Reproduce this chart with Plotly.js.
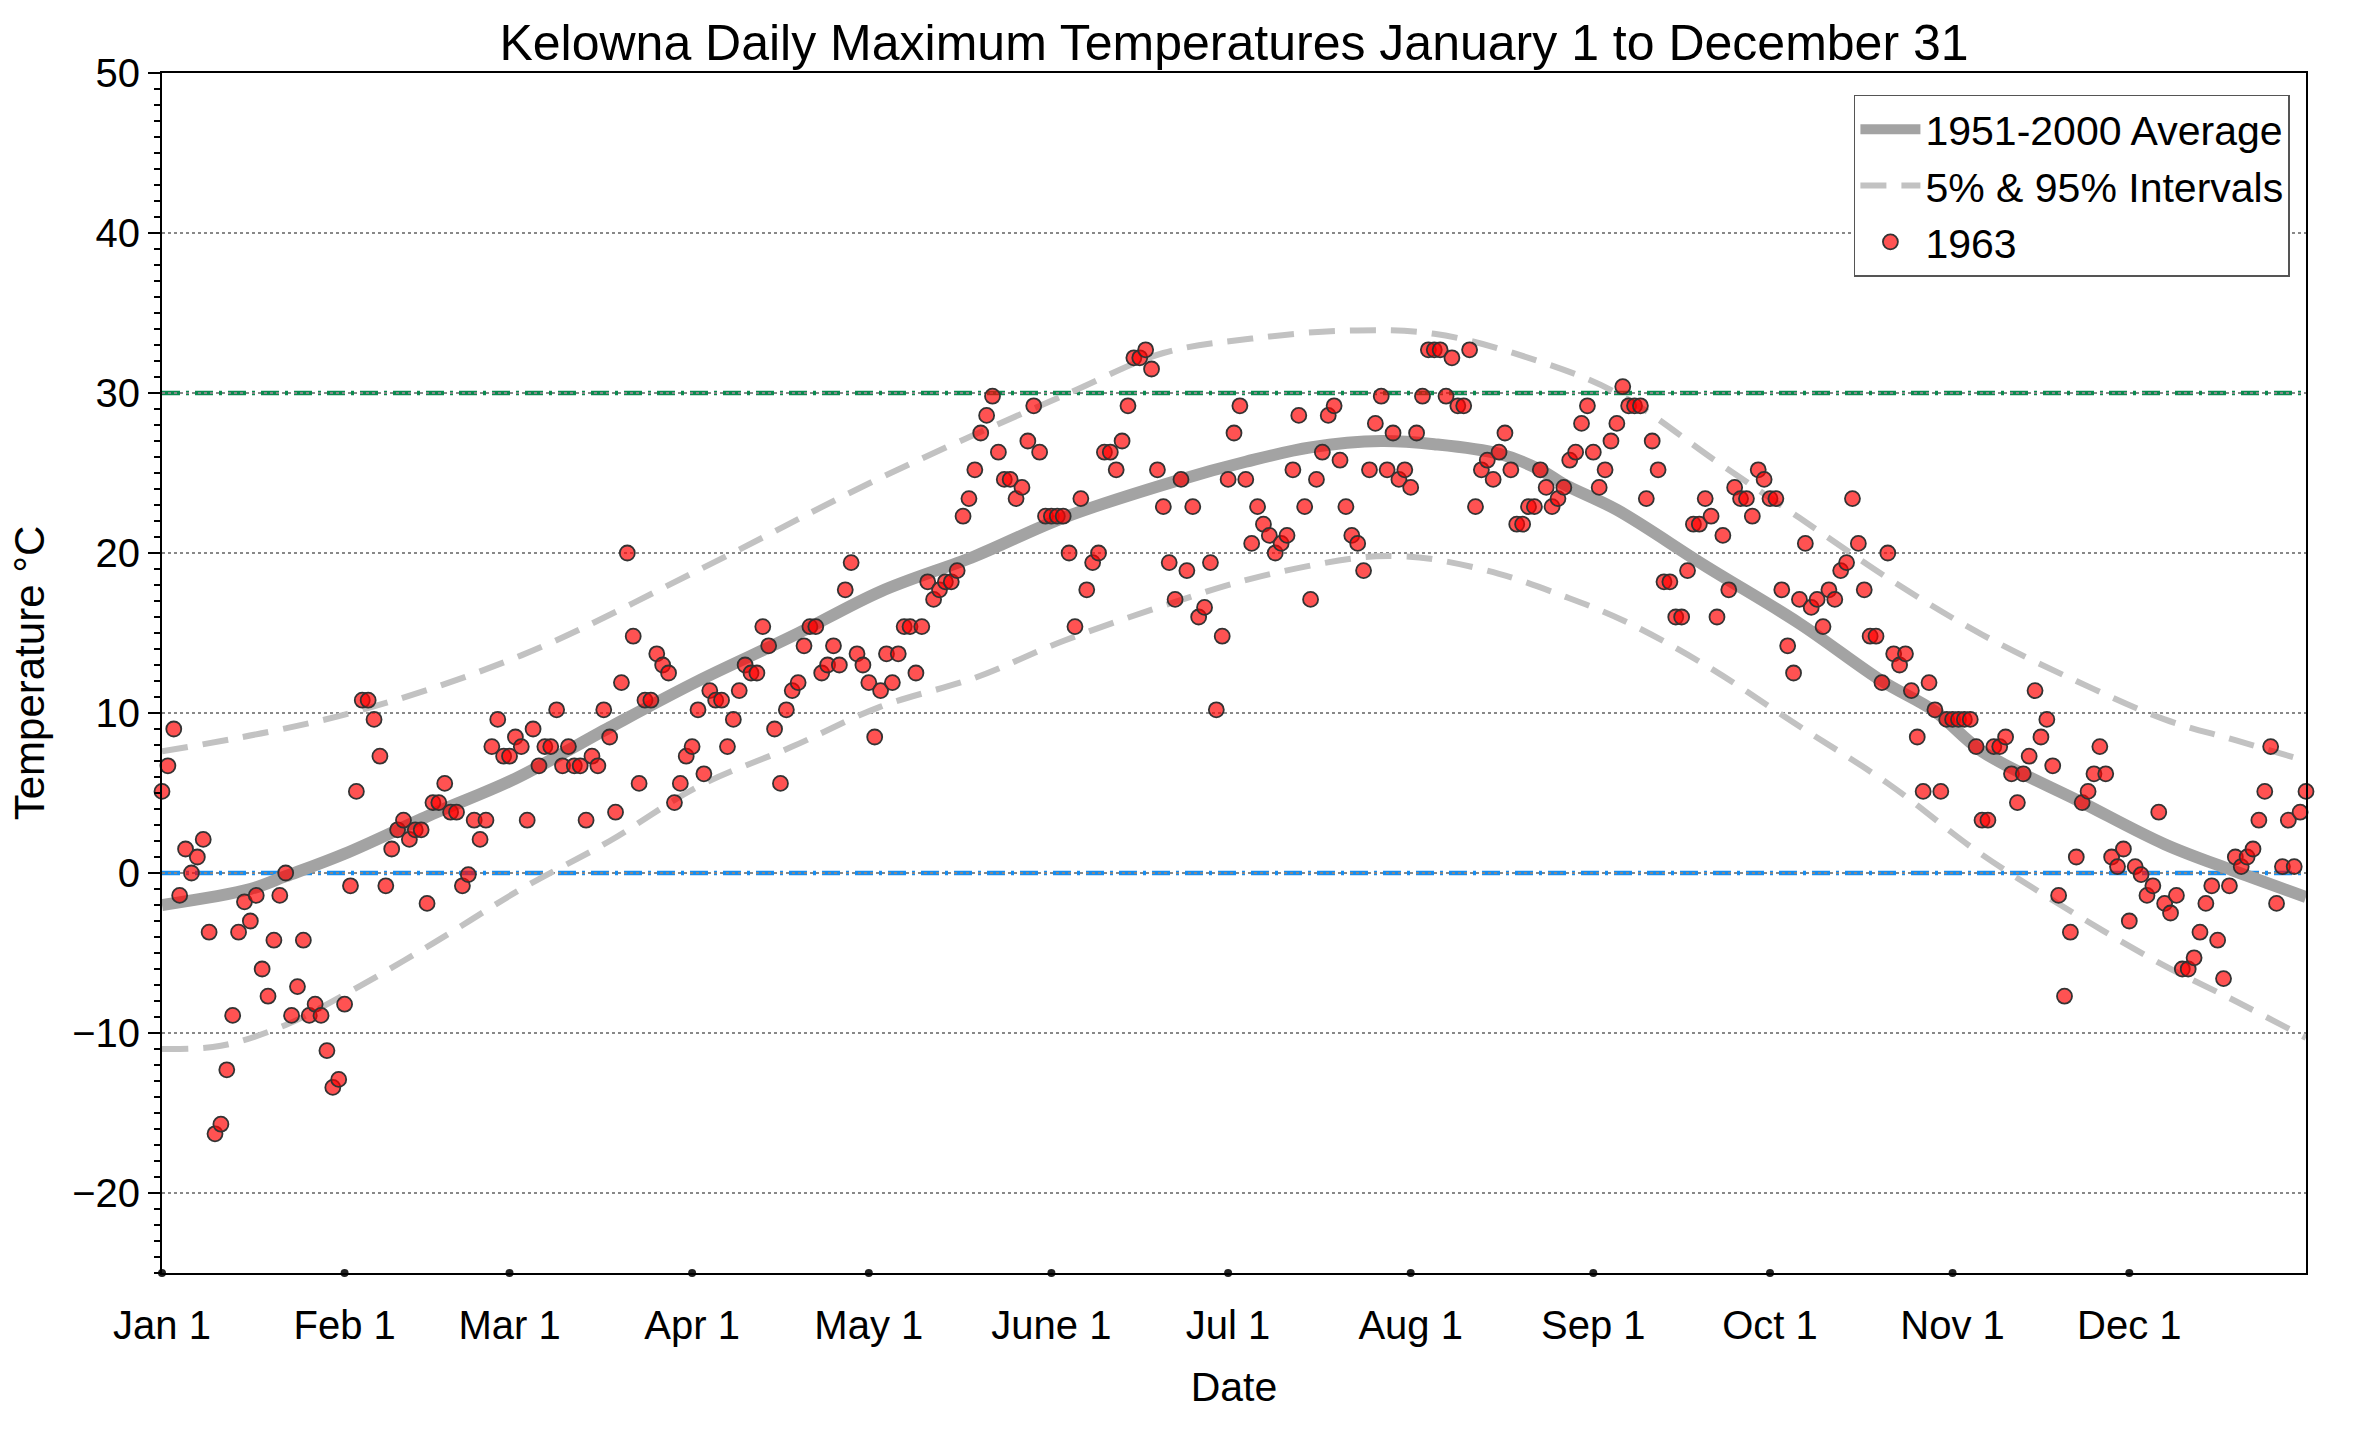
<!DOCTYPE html>
<html>
<head>
<meta charset="utf-8">
<script src="https://cdn.plot.ly/plotly-3.0.1.min.js"></script>
<style>html,body{margin:0;padding:0;background:#fff}</style>
</head>
<body>
<div id="chart" style="width:2360px;height:1432px"></div>
<script>
// daily max temperature 1963, Jan 1 .. Dec 31
var temps1963 = [
 5.1, 6.7, 9.0, -1.4, 1.5, 0.0, 1.0, 2.1, -3.7, -16.3,
 -15.7, -12.3, -8.9, -3.7, -1.8, -3.0, -1.4, -6.0, -7.7, -4.2,
 -1.4, 0.0, -8.9, -7.1, -4.2, -8.9, -8.2, -8.9, -11.1, -13.4,
 -12.9, -8.2, -0.8, 5.1, 10.8, 10.8, 9.6, 7.3, -0.8, 1.5,
 2.7, 3.3, 2.1, 2.7, 2.7, -1.9, 4.4, 4.4, 5.6, 3.8,
 3.8, -0.8, -0.1, 3.3, 2.1, 3.3, 7.9, 9.6, 7.3, 7.3,
 8.5, 7.9, 3.3, 9.0, 6.7, 7.9, 7.9, 10.2, 6.7, 7.9,
 6.7, 6.7, 3.3, 7.3, 6.7, 10.2, 8.5, 3.8, 11.9, 20.0,
 14.8, 5.6, 10.8, 10.8, 13.7, 13.0, 12.5, 4.4, 5.6, 7.3,
 7.9, 10.2, 6.2, 11.4, 10.8, 10.8, 7.9, 9.6, 11.4, 13.0,
 12.5, 12.5, 15.4, 14.2, 9.0, 5.6, 10.2, 11.4, 11.9, 14.2,
 15.4, 15.4, 12.5, 13.0, 14.2, 13.0, 17.7, 19.4, 13.7, 13.0,
 11.9, 8.5, 11.4, 13.7, 11.9, 13.7, 15.4, 15.4, 12.5, 15.4,
 18.2, 17.1, 17.7, 18.2, 18.2, 18.9, 22.3, 23.4, 25.2, 27.5,
 28.6, 29.8, 26.3, 24.6, 24.6, 23.4, 24.1, 27.0, 29.2, 26.3,
 22.3, 22.3, 22.3, 22.3, 20.0, 15.4, 23.4, 17.7, 19.4, 20.0,
 26.3, 26.3, 25.2, 27.0, 29.2, 32.2, 32.2, 32.7, 31.5, 25.2,
 22.9, 19.4, 17.1, 24.6, 18.9, 22.9, 16.0, 16.6, 19.4, 10.2,
 14.8, 24.6, 27.5, 29.2, 24.6, 20.6, 22.9, 21.8, 21.1, 20.0,
 20.6, 21.1, 25.2, 28.6, 22.9, 17.1, 24.6, 26.3, 28.6, 29.2,
 25.8, 22.9, 21.1, 20.6, 18.9, 25.2, 28.1, 29.8, 25.2, 27.5,
 24.6, 25.2, 24.1, 27.5, 29.8, 32.7, 32.7, 32.7, 29.8, 32.2,
 29.2, 29.2, 32.7, 22.9, 25.2, 25.8, 24.6, 26.3, 27.5, 25.2,
 21.8, 21.8, 22.9, 22.9, 25.2, 24.1, 22.9, 23.4, 24.1, 25.8,
 26.3, 28.1, 29.2, 26.3, 24.1, 25.2, 27.0, 28.1, 30.4, 29.2,
 29.2, 29.2, 23.4, 27.0, 25.2, 18.2, 18.2, 16.0, 16.0, 18.9,
 21.8, 21.8, 23.4, 22.3, 16.0, 21.1, 17.7, 24.1, 23.4, 23.4,
 22.3, 25.2, 24.6, 23.4, 23.4, 17.7, 14.2, 12.5, 17.1, 20.6,
 16.6, 17.1, 15.4, 17.7, 17.1, 18.9, 19.4, 23.4, 20.6, 17.7,
 14.8, 14.8, 11.9, 20.0, 13.7, 13.0, 13.7, 11.4, 8.5, 5.1,
 11.9, 10.2, 5.1, 9.6, 9.6, 9.6, 9.6, 9.6, 7.9, 3.3,
 3.3, 7.9, 7.9, 8.5, 6.2, 4.4, 6.2, 7.3, 11.4, 8.5,
 9.6, 6.7, -1.4, -7.7, -3.7, 1.0, 4.4, 5.1, 6.2, 7.9,
 6.2, 1.0, 0.4, 1.5, -3.0, 0.4, -0.1, -1.4, -0.8, 3.8,
 -1.9, -2.5, -1.4, -6.0, -6.0, -5.3, -3.7, -1.9, -0.8, -4.2,
 -6.6, -0.8, 1.0, 0.4, 1.0, 1.5, 3.3, 5.1, 7.9, -1.9,
 0.4, 3.3, 0.4, 3.8, 5.1
];
var dayIndex = temps1963.map(function (t, i) { return i; });

// 1951-2000 average curve
var avgDays  = [0, 15, 21, 31, 46, 60, 76, 91, 107, 122, 138, 153, 173, 184, 195, 207, 216, 227, 234, 238, 247, 262, 278, 292, 301, 309, 326, 340, 352, 364];
var avgTemps = [-2.0, -1.0, -0.2, 1.2, 3.7, 5.9, 9.1, 12.0, 14.8, 17.6, 19.8, 22.2, 24.6, 25.7, 26.6, 27.0, 26.8, 26.2, 25.2, 24.3, 22.7, 19.2, 15.6, 12.0, 10.1, 7.6, 4.4, 1.8, 0.1, -1.5];

// 95% interval
var p95Days  = [0, 31, 61, 92, 122, 154, 170, 185, 201, 216, 232, 247, 264, 278, 294, 309, 325, 340, 352, 364];
var p95Temps = [7.6, 9.9, 13.6, 19.1, 24.7, 30.0, 32.5, 33.4, 33.9, 33.7, 32.2, 30.0, 25.7, 22.2, 18.2, 14.9, 12.0, 9.6, 8.3, 7.0];

// 5% interval
var p5Days  = [0, 10, 21, 31, 46, 61, 76, 91, 107, 122, 138, 153, 170, 185, 203, 210, 216, 227, 238, 248, 262, 277, 293, 308, 321, 339, 352, 364];
var p5Temps = [-11.0, -10.8, -9.5, -7.6, -4.4, -1.0, 2.0, 5.4, 7.9, 10.4, 12.2, 14.5, 16.7, 18.4, 19.7, 19.8, 19.6, 18.7, 17.3, 15.8, 13.0, 9.4, 5.6, 1.4, -1.7, -5.6, -8.0, -10.3];

var monthDays   = [0, 31, 59, 90, 120, 151, 181, 212, 243, 273, 304, 334];
var monthLabels = ['Jan 1', 'Feb 1', 'Mar 1', 'Apr 1', 'May 1', 'June 1', 'Jul 1', 'Aug 1', 'Sep 1', 'Oct 1', 'Nov 1', 'Dec 1'];
var yTicks = [-20, -10, 0, 10, 20, 30, 40, 50];
var hotLine = 30;
var freezeLine = 0;

var font = 'Liberation Sans, Arial, Helvetica, sans-serif';

var traces = [
	{
		x: avgDays, y: avgTemps, name: '1951-2000 Average',
		mode: 'lines', line: {color: '#a3a3a3', width: 12, shape: 'spline'}
	},
	{
		x: p95Days, y: p95Temps, name: '5% & 95% Intervals',
		mode: 'lines', line: {color: '#c2c2c2', width: 6, dash: '26px,15px', shape: 'spline'}
	},
	{
		x: p5Days, y: p5Temps, name: '5%', showlegend: false,
		mode: 'lines', line: {color: '#c2c2c2', width: 6, dash: '26px,15px', shape: 'spline'}
	},
	{
		x: dayIndex, y: temps1963, name: '1963',
		mode: 'markers', cliponaxis: false,
		marker: {color: 'rgba(255,0,0,0.68)', size: 15, line: {color: '#333', width: 1.8}}
	},
	{
		x: monthDays, y: monthDays.map(function () { return -25; }),
		mode: 'markers', showlegend: false, cliponaxis: false, hoverinfo: 'skip',
		marker: {color: '#222', size: 8}
	}
];

var layout = {
	width: 2360,
	height: 1432,
	margin: {l: 162, r: 54, t: 73, b: 159},
	paper_bgcolor: '#fff',
	plot_bgcolor: '#fff',
	font: {family: font, size: 40, color: '#000'},
	title: {
		text: 'Kelowna Daily Maximum Temperatures January 1 to December 31',
		font: {family: font, size: 50, color: '#000'},
		x: 0.5, xref: 'paper', xanchor: 'center',
		y: 0.97, yref: 'container', yanchor: 'middle'
	},
	xaxis: {
		range: [0, 364],
		tickvals: monthDays,
		ticktext: monthLabels,
		ticks: '',
		ticklabelstandoff: 16,
		showgrid: false,
		zeroline: false,
		showline: true, linecolor: '#000', linewidth: 2, mirror: true,
		tickfont: {size: 40},
		title: {text: 'Date', font: {size: 41}, standoff: 26}
	},
	yaxis: {
		range: [-25, 50],
		tickvals: yTicks,
		ticks: 'outside', ticklen: 12, tickwidth: 2, tickcolor: '#000',
		minor: {dtick: 1, ticks: 'outside', ticklen: 6, tickwidth: 1.5, tickcolor: '#000', showgrid: false},
		showgrid: true, gridcolor: '#888', gridwidth: 1.5, griddash: 'dot',
		zeroline: false,
		showline: true, linecolor: '#000', linewidth: 2, mirror: true,
		tickfont: {size: 40},
		title: {text: 'Temperature °C', font: {size: 42}, standoff: 14}
	},
	shapes: [
		{type: 'line', xref: 'paper', x0: 0, x1: 1, yref: 'y', y0: hotLine, y1: hotLine, layer: 'below',
		 line: {color: '#0a8a4f', width: 4.5, dash: '18px,6px,3px,6px'}},
		{type: 'line', xref: 'paper', x0: 0, x1: 1, yref: 'y', y0: freezeLine, y1: freezeLine, layer: 'below',
		 line: {color: '#168df0', width: 4.5, dash: '18px,6px,3px,6px'}}
	],
	legend: {
		x: 0.9925, xanchor: 'right', y: 0.982, yanchor: 'top',
		bgcolor: '#fff', bordercolor: '#555', borderwidth: 1.5,
		font: {size: 41}, traceorder: 'normal', itemwidth: 60
	},
	showlegend: true
};

Plotly.newPlot('chart', traces, layout, {staticPlot: true});
</script>
</body>
</html>
